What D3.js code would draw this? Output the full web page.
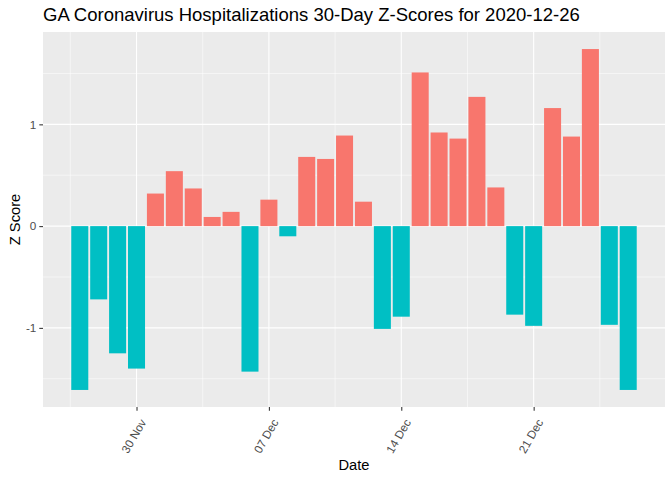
<!DOCTYPE html>
<html>
<head>
<meta charset="utf-8">
<script type="text/javascript" src="https://cdn.jsdelivr.net/npm/d3@7/dist/d3.min.js"></script>
<style>
  body { margin: 0; background: #fff; }
  text { font-family: "Liberation Sans", Arial, sans-serif; }
</style>
</head>
<body>
<script>
// one bar per day, z score of hospitalizations
var dates = ["2020-11-27","2020-11-28","2020-11-29","2020-11-30","2020-12-01","2020-12-02",
             "2020-12-03","2020-12-04","2020-12-05","2020-12-06","2020-12-07","2020-12-08",
             "2020-12-09","2020-12-10","2020-12-11","2020-12-12","2020-12-13","2020-12-14",
             "2020-12-15","2020-12-16","2020-12-17","2020-12-18","2020-12-19","2020-12-20",
             "2020-12-21","2020-12-22","2020-12-23","2020-12-24","2020-12-25","2020-12-26"];
var zScores = [-1.61, -0.72, -1.25, -1.40, 0.32, 0.54,
               0.37, 0.09, 0.14, -1.43, 0.26, -0.10,
               0.68, 0.66, 0.89, 0.24, -1.01, -0.89,
               1.51, 0.92, 0.86, 1.27, 0.38, -0.87,
               -0.98, 1.16, 0.88, 1.74, -0.97, -1.61];
var xTicks = ["2020-11-30","2020-12-07","2020-12-14","2020-12-21"];
var yTicks = [-1, 0, 1];
var yMinor = [-1.5, -0.5, 0.5, 1.5];

var parse = d3.utcParse("%Y-%m-%d");
var day = 864e5;
var myData = dates.map(function(d, i) { return {date: parse(d), z: zScores[i]}; });

var width = 672, height = 480;
var margin = {top: 32, right: 7, bottom: 73, left: 43};

var svg = d3.select("body").append("svg").attr("width", width).attr("height", height);

// ggplot style 5% expansion around the bars
var xLo = +d3.min(myData, function(d) { return d.date; }) - 0.45 * day;
var xHi = +d3.max(myData, function(d) { return d.date; }) + 0.45 * day;
var xPad = (xHi - xLo) * 0.05;
var x = d3.scaleUtc().domain([new Date(xLo - xPad), new Date(xHi + xPad)])
          .range([margin.left, width - margin.right]);

var yExt = d3.extent(myData, function(d) { return d.z; });
var yPad = (yExt[1] - yExt[0]) * 0.05;
var y = d3.scaleLinear().domain([yExt[0] - yPad, yExt[1] + yPad])
          .range([height - margin.bottom, margin.top]);

// panel background
svg.append("rect")
   .attr("x", margin.left).attr("y", margin.top)
   .attr("width", width - margin.right - margin.left)
   .attr("height", height - margin.bottom - margin.top)
   .attr("fill", "#EBEBEB");

var xTickDates = xTicks.map(parse);
var xMinor = [d3.utcDay.offset(xTickDates[0], -7)].concat(xTickDates).map(function(d) { return new Date(+d + 3.5 * day); });

// grid lines
svg.selectAll(".ygm").data(yMinor).enter().append("line")
   .attr("x1", margin.left).attr("x2", width - margin.right)
   .attr("y1", function(d) { return y(d); }).attr("y2", function(d) { return y(d); })
   .attr("stroke", "#fff").attr("stroke-width", 0.53);
svg.selectAll(".xgm").data(xMinor).enter().append("line")
   .attr("x1", function(d) { return x(d); }).attr("x2", function(d) { return x(d); })
   .attr("y1", margin.top).attr("y2", height - margin.bottom)
   .attr("stroke", "#fff").attr("stroke-width", 0.53);
svg.selectAll(".yg").data(yTicks).enter().append("line")
   .attr("x1", margin.left).attr("x2", width - margin.right)
   .attr("y1", function(d) { return y(d); }).attr("y2", function(d) { return y(d); })
   .attr("stroke", "#fff").attr("stroke-width", 1.07);
svg.selectAll(".xg").data(xTickDates).enter().append("line")
   .attr("x1", function(d) { return x(d); }).attr("x2", function(d) { return x(d); })
   .attr("y1", margin.top).attr("y2", height - margin.bottom)
   .attr("stroke", "#fff").attr("stroke-width", 1.07);

// bars
svg.selectAll(".bar").data(myData).enter().append("rect")
   .attr("x", function(d) { return x(new Date(+d.date - 0.45 * day)); })
   .attr("width", function(d) { return x(new Date(+d.date + 0.45 * day)) - x(new Date(+d.date - 0.45 * day)); })
   .attr("y", function(d) { return y(Math.max(0, d.z)); })
   .attr("height", function(d) { return Math.abs(y(d.z) - y(0)); })
   .attr("fill", function(d) { return d.z > 0 ? "#F8766D" : "#00BFC4"; });

// axes
var xAxis = svg.append("g")
   .attr("transform", "translate(0," + (height - margin.bottom) + ")")
   .call(d3.axisBottom(x).tickValues(xTickDates).tickFormat(d3.utcFormat("%d %b")).tickSize(3.7).tickSizeOuter(0));
xAxis.select(".domain").remove();
xAxis.selectAll("line").attr("stroke", "#333").attr("stroke-width", 1.07);
xAxis.selectAll("text")
   .attr("fill", "#4D4D4D").style("font-size", "11.7px")
   .attr("text-anchor", "end")
   .attr("transform", "translate(6,13) rotate(-60)")
   .attr("x", 0).attr("y", 0).attr("dy", "0.35em");

var yAxis = svg.append("g")
   .attr("transform", "translate(" + margin.left + ",0)")
   .call(d3.axisLeft(y).tickValues(yTicks).tickSize(3.7).tickPadding(3)
           .tickFormat(function(d) { return String(d); }));
yAxis.select(".domain").remove();
yAxis.selectAll("line").attr("stroke", "#333").attr("stroke-width", 1.07);
yAxis.selectAll("text").attr("fill", "#4D4D4D").style("font-size", "11.7px");

// titles
svg.append("text").attr("x", margin.left).attr("y", 21)
   .style("font-size", "18.5px").attr("fill", "#000")
   .text("GA Coronavirus Hospitalizations 30-Day Z-Scores for 2020-12-26");
svg.append("text").attr("x", (margin.left + width - margin.right) / 2).attr("y", 470)
   .attr("text-anchor", "middle").style("font-size", "14.7px").attr("fill", "#000")
   .text("Date");
svg.append("text")
   .attr("transform", "translate(20," + ((margin.top + height - margin.bottom) / 2) + ") rotate(-90)")
   .attr("text-anchor", "middle").style("font-size", "14.7px").attr("fill", "#000")
   .text("Z Score");
</script>
</body>
</html>
